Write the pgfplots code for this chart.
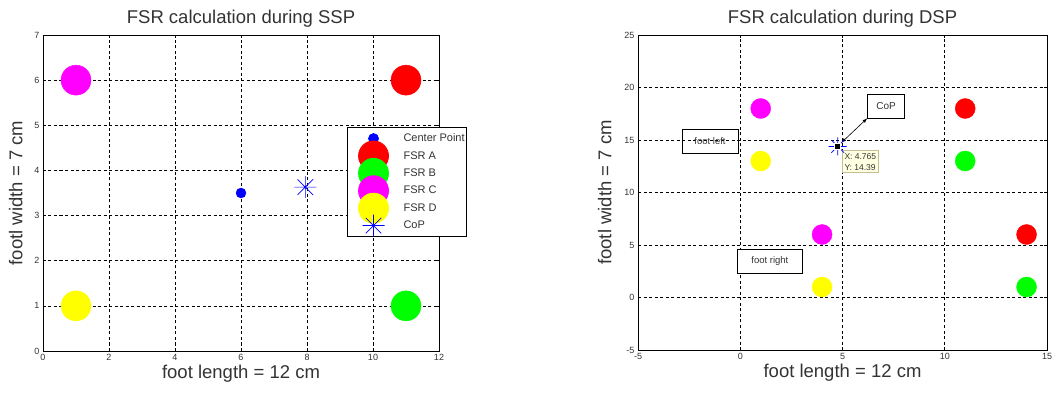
\documentclass[border=0pt]{standalone}
\usepackage{pgfplots}
\pgfplotsset{compat=1.18}
\usepackage{fontspec}
\setmainfont{Liberation Sans}
\definecolor{tipbg}{RGB}{255,255,225}
\definecolor{tipbd}{RGB}{200,190,150}
\definecolor{mred}{RGB}{255,0,0}
\definecolor{mgreen}{RGB}{0,255,0}
\definecolor{mmag}{RGB}{255,0,255}
\definecolor{myel}{RGB}{255,255,0}
\definecolor{mblue}{RGB}{0,0,255}
\pgfdeclareplotmark{mstar}{%
  \pgfpathmoveto{\pgfqpoint{-\pgfplotmarksize}{0pt}}\pgfpathlineto{\pgfqpoint{\pgfplotmarksize}{0pt}}%
  \pgfpathmoveto{\pgfqpoint{0pt}{-\pgfplotmarksize}}\pgfpathlineto{\pgfqpoint{0pt}{\pgfplotmarksize}}%
  \pgfpathmoveto{\pgfqpoint{-.7071\pgfplotmarksize}{-.7071\pgfplotmarksize}}\pgfpathlineto{\pgfqpoint{.7071\pgfplotmarksize}{.7071\pgfplotmarksize}}%
  \pgfpathmoveto{\pgfqpoint{-.7071\pgfplotmarksize}{.7071\pgfplotmarksize}}\pgfpathlineto{\pgfqpoint{.7071\pgfplotmarksize}{-.7071\pgfplotmarksize}}%
  \pgfusepathqstroke}
\pgfplotsset{
  mstyle/.style={
    scale only axis,
    axis line style={black, line width=0.8pt},
    tick align=inside,
    major tick length=3pt,
    tick style={black, line width=0.6pt},
    grid=major,
    major grid style={black, line width=0.6pt, dash pattern=on 3pt off 2.5pt},
    ticklabel style={font=\fontsize{9}{10}\selectfont, text=black!80},
    /pgf/number format/assume math mode=true,
    label style={font=\fontsize{18.5}{20}\selectfont, text=black!80},
    title style={font=\fontsize{18.5}{20}\selectfont, text=black!80, yshift=-2pt},
    xlabel style={yshift=3pt},
  }
}
\begin{document}
\begin{tikzpicture}
\useasboundingbox (-43pt,-45pt) rectangle (1011pt,351pt);
\begin{axis}[mstyle,
  at={(0pt,0pt)}, anchor=south west,
  width=396pt, height=316pt,
  xmin=0, xmax=12, ymin=0, ymax=7,
  xtick={0,2,...,12}, ytick={0,1,...,7},
  title={FSR calculation during SSP},
  xlabel={foot length = 12 cm},
  ylabel={footl width = 7 cm},
  ylabel style={yshift=5pt},
  legend cell align=left,
  legend style={at={(0.768,0.709)}, anchor=north west, font=\fontsize{11}{12}\selectfont,
    draw=black, line width=0.8pt, row sep=0pt, inner xsep=0pt, inner ysep=2.5pt, text=black!80,
    /tikz/every even column/.append style={column sep=1pt},
    /tikz/every odd column/.append style={column sep=9pt}},
  legend image code/.code={\path[draw=none, fill=none] (0pt,-8.7pt) rectangle (45pt,8.7pt); \draw[#1, overlay] plot coordinates {(26pt,0pt)};},
  clip=false,
]
\addplot[only marks, mark=*, mark size=5pt, mblue, mark options={fill=mblue, draw=mblue}] coordinates {(6,3.5)};
\addlegendentry{Center Point}
\addplot[only marks, mark=*, mark size=15pt, mark options={fill=mred, draw=mred}] coordinates {(11,6)};
\addlegendentry{FSR A}
\addplot[only marks, mark=*, mark size=15pt, mark options={fill=mgreen, draw=mgreen}] coordinates {(11,1)};
\addlegendentry{FSR B}
\addplot[only marks, mark=*, mark size=15pt, mark options={fill=mmag, draw=mmag}] coordinates {(1,6)};
\addlegendentry{FSR C}
\addplot[only marks, mark=*, mark size=15pt, mark options={fill=myel, draw=myel}] coordinates {(1,1)};
\addlegendentry{FSR D}
\addplot[only marks, mark=mstar, mark size=11pt, mark options={draw=mblue, line width=0.7pt}] coordinates {(7.95,3.63)};
\addlegendentry{CoP}
\end{axis}
\begin{axis}[mstyle,
  at={(595pt,1pt)}, anchor=south west,
  width=409pt, height=315pt,
  xmin=-5, xmax=15, ymin=-5, ymax=25,
  xtick={-5,0,...,15}, ytick={-5,0,...,25},
  title={FSR calculation during DSP},
  xlabel={foot length = 12 cm},
  ylabel={footl width = 7 cm},
  ylabel style={yshift=6pt},
  clip=false,
]
\addplot[only marks, mark=*, mark size=10pt, mark options={fill=mred, draw=mred}] coordinates {(11,18) (14,6)};
\addplot[only marks, mark=*, mark size=10pt, mark options={fill=mgreen, draw=mgreen}] coordinates {(11,13) (14,1)};
\addplot[only marks, mark=*, mark size=10pt, mark options={fill=mmag, draw=mmag}] coordinates {(1,18) (4,6)};
\addplot[only marks, mark=*, mark size=10pt, mark options={fill=myel, draw=myel}] coordinates {(1,13) (4,1)};
\addplot[only marks, mark=mstar, mark size=9pt, mark options={draw=mblue, line width=0.7pt}] coordinates {(4.765,14.39)};
\addplot[only marks, mark=square*, mark size=3pt, mark options={fill=black, draw=white, line width=0.8pt}] coordinates {(4.765,14.39)};
\node[draw=black, line width=0.8pt, fill=white, font=\fontsize{10}{11}\selectfont, inner sep=4pt, minimum height=24pt, minimum width=37pt, text=black!80] (cop) at (axis cs:7.13,18.24) {CoP};
\draw[<->, >=latex, line width=0.6pt] (axis cs:4.95,14.75) -- (cop.south west);
\node[draw=black, line width=0.8pt, font=\fontsize{9.5}{10}\selectfont, inner sep=3pt, minimum height=24pt, minimum width=56pt, text=black!80] at (axis cs:-1.48,14.9) {foot left};
\node[draw=black, line width=0.8pt, fill=white, font=\fontsize{9.5}{10}\selectfont, inner sep=3pt, minimum height=24pt, minimum width=65pt, text=black!80] at (axis cs:1.45,3.48) {foot right};
\node[draw=tipbd, fill=tipbg, line width=0.6pt, anchor=north west, align=left, font=\fontsize{8.5}{11}\selectfont, inner sep=2.5pt, text=black!80] at ([xshift=4pt,yshift=-4pt]axis cs:4.765,14.39) {X: 4.765\\Y: 14.39};
\end{axis}
\end{tikzpicture}
\end{document}
